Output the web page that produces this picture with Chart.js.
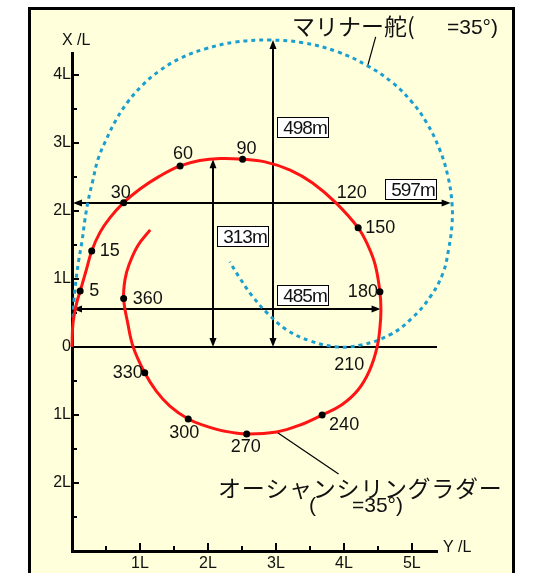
<!DOCTYPE html>
<html>
<head>
<meta charset="utf-8">
<script src="https://cdn.jsdelivr.net/npm/chart.js@4"></script>
<style>
  html, body { margin: 0; padding: 0; background: #fff; }
  canvas { display: block; }
</style>
</head>
<body>
<canvas id="turning" width="534" height="573"></canvas>
<script>
// Turning circles at rudder angle 35°: advance X/L (vertical) against transfer Y/L (horizontal)

// Heading change marks on the Ocean Schilling rudder track
const headings        = [5, 15, 30, 60, 90, 120, 150, 180, 210, 240, 270, 300, 330, 360];
const headingTransfer = [0.12, 0.29, 0.76, 1.59, 2.51, 3.88, 4.21, 4.53, 4.49, 3.68, 2.57, 1.71, 1.07, 0.76];
const headingAdvance  = [0.82, 1.41, 2.12, 2.66, 2.76, 2.12, 1.75, 0.81, 0.00, -1.00, -1.28, -1.06, -0.38, 0.71];
const unmarkedHeadings = [120, 210];

// Ocean Schilling rudder track
const oceanTransfer = [0, 0.015, 0.07, 0.12, 0.21, 0.29, 0.41, 0.56, 0.76, 1.00, 1.29, 1.59, 1.88, 2.18, 2.51, 2.84, 3.21, 3.54, 3.88, 4.21, 4.35, 4.46, 4.53, 4.545, 4.53, 4.49, 4.38, 4.21, 3.97, 3.68, 3.35, 3.01, 2.57, 2.25, 1.96, 1.71, 1.44, 1.24, 1.07, 0.90, 0.82, 0.76, 0.78, 0.84, 0.97, 1.15];
const oceanAdvance  = [0, 0.35, 0.65, 0.82, 1.13, 1.41, 1.68, 1.90, 2.12, 2.32, 2.51, 2.66, 2.74, 2.77, 2.76, 2.72, 2.60, 2.41, 2.12, 1.75, 1.50, 1.21, 0.81, 0.54, 0.28, 0.00, -0.34, -0.63, -0.85, -1.00, -1.15, -1.25, -1.28, -1.24, -1.16, -1.06, -0.87, -0.65, -0.38, 0.00, 0.35, 0.71, 0.99, 1.21, 1.49, 1.72];

// Mariner rudder track
const marinerTransfer = [0.015, 0.03, 0.06, 0.10, 0.15, 0.19, 0.24, 0.31, 0.38, 0.50, 0.65, 0.82, 1.04, 1.29, 1.59, 1.96, 2.40, 2.91, 3.40, 3.90, 4.35, 4.72, 5.00, 5.22, 5.41, 5.53, 5.59, 5.59, 5.54, 5.46, 5.28, 5.01, 4.68, 4.26, 3.90, 3.50, 3.16, 2.88, 2.65, 2.47, 2.32];
const marinerAdvance  = [0.43, 0.69, 0.99, 1.28, 1.57, 1.87, 2.16, 2.46, 2.75, 3.04, 3.34, 3.60, 3.85, 4.06, 4.24, 4.38, 4.48, 4.51, 4.47, 4.34, 4.13, 3.88, 3.60, 3.29, 2.90, 2.51, 2.12, 1.79, 1.43, 1.09, 0.75, 0.43, 0.18, 0.03, 0.00, 0.09, 0.25, 0.49, 0.75, 1.01, 1.25];

// Axis tick labels
const transferTickValues = [1, 2, 3, 4, 5];
const transferTickLabels = ['1L', '2L', '3L', '4L', '5L'];
const advanceTickValues  = [-2, -1, 0, 1, 2, 3, 4];
const advanceTickLabels  = ['2L', '1L', '0', '1L', '2L', '3L', '4L'];

// Dimension arrows: orientation, fixed coordinate, span from/to (in L)
const dimensionTexts = ['498m', '597m', '313m', '485m'];
const dimensionDir   = ['v', 'h', 'v', 'h'];
const dimensionAt    = [2.96, 2.12, 2.07, 0.55];
const dimensionFrom  = [0, 0, 0, 0];
const dimensionTo    = [4.51, 5.57, 2.76, 4.54];

// ---- placement of annotation text ----
const dimensionBoxAnchor = [3.22, 4.99, 1.63, 3.40]; // along the free axis
const headingLabelOffset = {
  5: [9, 0, 'left'], 15: [8, 0, 'left'], 30: [-3, -10, 'center'], 60: [3, -12, 'center'],
  90: [4, -10, 'center'], 120: [16, -10, 'center'], 150: [7, 0, 'left'], 180: [-2, 0, 'right'],
  210: [-28, 18, 'center'], 240: [22, 10, 'center'], 270: [-1, 13, 'center'], 300: [-4, 14, 'center'],
  330: [-2, 0, 'right'], 360: [9, 0, 'left']
};

const LATIN = '"Liberation Sans", Arial, sans-serif';
const CJK = '"Noto Sans CJK JP", "Liberation Sans", sans-serif';

const zip = (xs, ys) => xs.map((x, i) => ({ x, y: ys[i] }));

function labelFor(values, labels) {
  return (v) => {
    const i = values.indexOf(v);
    return i >= 0 ? labels[i] : '';
  };
}

function arrowHead(c, x, y, dx, dy) {
  const L = 9, W = 3.5;
  c.beginPath();
  c.moveTo(x, y);
  c.lineTo(x - dx * L - dy * W, y - dy * L + dx * W);
  c.lineTo(x - dx * L + dy * W, y - dy * L - dx * W);
  c.closePath();
  c.fill();
}

const framePlugin = {
  id: 'frame',
  beforeDraw(chart) {
    const c = chart.ctx;
    c.save();
    c.fillStyle = '#fff';
    c.fillRect(0, 0, chart.width, chart.height);
    c.fillStyle = '#ffffdc';
    c.fillRect(29, 8, 485, 600);
    c.strokeStyle = '#000';
    c.lineWidth = 3;
    c.strokeRect(29.5, 8.5, 484, 600);
    c.restore();
  }
};

const underlayPlugin = {
  id: 'underlay',
  beforeDatasetsDraw(chart) {
    const c = chart.ctx, sx = chart.scales.x, sy = chart.scales.y;
    const area = chart.chartArea;
    c.save();
    c.strokeStyle = '#000';
    c.fillStyle = '#000';

    // inner tick marks
    c.lineWidth = 2;
    sy.ticks.forEach(t => {
      const y = Math.round(sy.getPixelForValue(t.value));
      if (t.value <= sy.min) return;
      const len = Number.isInteger(t.value) ? 7 : 5;
      c.beginPath(); c.moveTo(area.left, y); c.lineTo(area.left + len, y); c.stroke();
    });
    sx.ticks.forEach(t => {
      if (t.value <= sx.min) return;
      const x = Math.round(sx.getPixelForValue(t.value));
      const len = Number.isInteger(t.value) ? 8 : 5;
      c.beginPath(); c.moveTo(x, area.bottom); c.lineTo(x, area.bottom - len); c.stroke();
    });

    // X/L = 0 reference line
    c.lineWidth = 2;
    const y0 = Math.round(sy.getPixelForValue(0));
    c.beginPath(); c.moveTo(area.left, y0); c.lineTo(area.right, y0); c.stroke();

    // dimension arrows
    dimensionTexts.forEach((txt, i) => {
      c.lineWidth = 2;
      if (dimensionDir[i] === 'v') {
        const x = Math.round(sx.getPixelForValue(dimensionAt[i]));
        const ya = sy.getPixelForValue(dimensionFrom[i]);
        const yb = sy.getPixelForValue(dimensionTo[i]);
        c.beginPath(); c.moveTo(x, ya - 4); c.lineTo(x, yb + 4); c.stroke();
        arrowHead(c, x, ya, 0, 1);
        arrowHead(c, x, yb, 0, -1);
      } else {
        const y = Math.round(sy.getPixelForValue(dimensionAt[i]));
        const xa = sx.getPixelForValue(dimensionFrom[i]) + 1;
        const xb = sx.getPixelForValue(dimensionTo[i]);
        c.beginPath(); c.moveTo(xa + 4, y); c.lineTo(xb - 4, y); c.stroke();
        arrowHead(c, xa, y, -1, 0);
        arrowHead(c, xb, y, 1, 0);
      }
    });

    // leader lines to the two tracks
    c.lineWidth = 1.2;
    let x = sx.getPixelForValue(4.35), y = sy.getPixelForValue(4.13);
    c.beginPath(); c.moveTo(x, y); c.lineTo(x + 8, y - 29); c.stroke();
    x = sx.getPixelForValue(3.01); y = sy.getPixelForValue(-1.25);
    c.beginPath(); c.moveTo(x, y); c.lineTo(x + 62, y + 42); c.stroke();
    c.restore();
  }
};

const overlayPlugin = {
  id: 'overlay',
  afterDatasetsDraw(chart) {
    const c = chart.ctx, sx = chart.scales.x, sy = chart.scales.y;
    c.save();
    c.fillStyle = '#111';

    // heading labels
    c.font = '18px ' + LATIN;
    c.textBaseline = 'middle';
    headings.forEach((h, i) => {
      const [dx, dy, align] = headingLabelOffset[h];
      c.textAlign = align;
      c.fillText(String(h), sx.getPixelForValue(headingTransfer[i]) + dx, sy.getPixelForValue(headingAdvance[i]) + dy);
    });

    // dimension value boxes
    c.font = '19px ' + LATIN;
    c.textAlign = 'center';
    if ('letterSpacing' in c) c.letterSpacing = '-1px';
    dimensionTexts.forEach((txt, i) => {
      const w = 52, h = 21;
      let left, top;
      if (dimensionDir[i] === 'v') {
        left = Math.round(sx.getPixelForValue(dimensionAt[i])) + 4;
        top = Math.round(sy.getPixelForValue(dimensionBoxAnchor[i]) - h / 2);
      } else {
        left = Math.round(sx.getPixelForValue(dimensionBoxAnchor[i]) - w / 2);
        top = Math.round(sy.getPixelForValue(dimensionAt[i])) - 3 - h;
      }
      c.fillStyle = '#fff';
      c.fillRect(left, top, w, h);
      c.strokeStyle = '#000';
      c.lineWidth = 1;
      c.strokeRect(left + 0.5, top + 0.5, w - 1, h - 1);
      c.fillStyle = '#111';
      c.fillText(txt, left + w / 2 + 2, top + h / 2 + 1);
    });
    if ('letterSpacing' in c) c.letterSpacing = '0px';

    // axis titles
    c.font = '16px ' + LATIN;
    c.textAlign = 'left';
    c.fillText('X /L', 62, 41);
    c.fillText('Y /L', 443, 548);

    // track captions
    c.font = '23px ' + CJK;
    c.fillText('マリナー舵(', 292, 26);
    c.font = '21px ' + LATIN;
    c.fillText('=35°)', 447, 28);

    c.font = '23px ' + CJK;
    if ('letterSpacing' in c) c.letterSpacing = '0.7px';
    c.fillText('オーシャンシリングラダー', 218, 488);
    if ('letterSpacing' in c) c.letterSpacing = '0px';
    c.font = '21px ' + LATIN;
    c.fillText('(', 309, 506);
    c.fillText('=35°)', 352, 506);
    c.restore();
  }
};

new Chart(document.getElementById('turning'), {
  type: 'scatter',
  data: {
    datasets: [
      {
        label: 'heading',
        data: zip(headingTransfer, headingAdvance),
        showLine: false,
        pointRadius: (ctx) => unmarkedHeadings.includes(headings[ctx.dataIndex]) ? 0 : 3.5,
        pointBackgroundColor: '#000',
        pointBorderWidth: 0,
        clip: false
      },
      {
        label: 'オーシャンシリングラダー',
        data: zip(oceanTransfer, oceanAdvance),
        showLine: true,
        tension: 0.4,
        borderColor: '#ff1414',
        borderWidth: 3,
        pointRadius: 0,
        clip: false
      },
      {
        label: 'マリナー舵',
        data: zip(marinerTransfer, marinerAdvance),
        showLine: true,
        tension: 0.4,
        borderColor: '#1a9fd0',
        borderWidth: 3,
        borderDash: [4, 4],
        borderCapStyle: 'butt',
        pointRadius: 0,
        clip: false
      }
    ]
  },
  options: {
    responsive: false,
    animation: false,
    events: [],
    layout: { padding: { left: 28, top: 53, right: 97, bottom: 0 } },
    plugins: { legend: { display: false }, tooltip: { enabled: false } },
    scales: {
      x: {
        type: 'linear',
        min: 0,
        max: 5.37,
        afterFit(scale) { scale.height = 22; },
        grid: { display: false, drawTicks: false },
        border: { display: true, color: '#000', width: 3 },
        ticks: {
          stepSize: 0.5,
          autoSkip: false,
          includeBounds: false,
          maxRotation: 0,
          padding: 3,
          color: '#111',
          font: { family: '"Liberation Sans", Arial, sans-serif', size: 16 },
          callback: labelFor(transferTickValues, transferTickLabels)
        }
      },
      y: {
        type: 'linear',
        min: -3,
        max: 4.32,
        afterFit(scale) { scale.width = 44; },
        grid: { display: false, drawTicks: false },
        border: { display: true, color: '#000', width: 3 },
        ticks: {
          stepSize: 0.5,
          autoSkip: false,
          includeBounds: false,
          padding: 1,
          color: '#111',
          font: { family: '"Liberation Sans", Arial, sans-serif', size: 16 },
          callback: labelFor(advanceTickValues, advanceTickLabels)
        }
      }
    }
  },
  plugins: [framePlugin, underlayPlugin, overlayPlugin]
});
</script>
</body>
</html>
